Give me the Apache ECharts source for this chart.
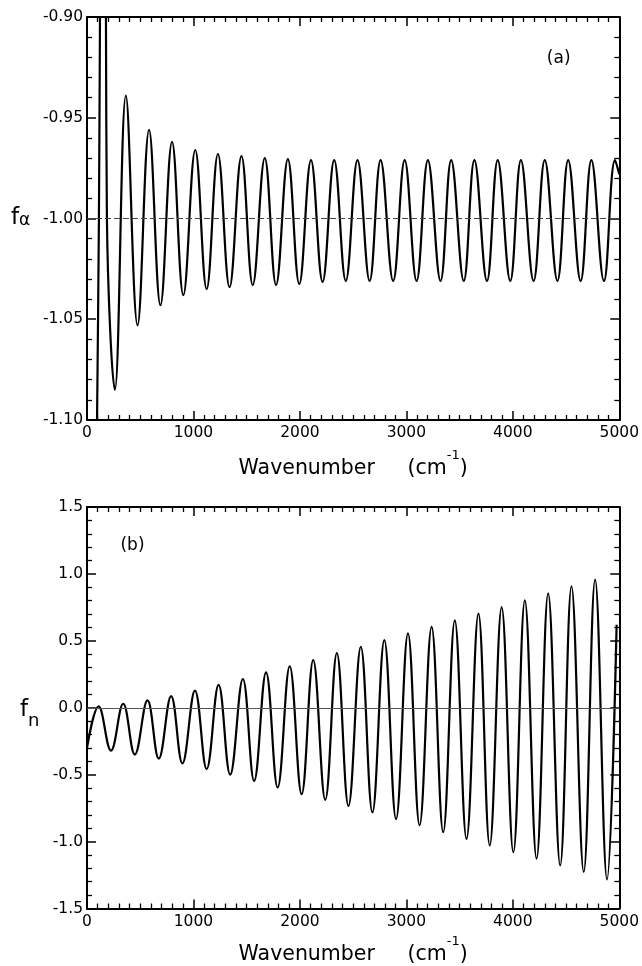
<!DOCTYPE html>
<html>
<head>
<meta charset="utf-8">
<script src="https://cdn.jsdelivr.net/npm/echarts@6/dist/echarts.min.js"></script>
<style>
  html, body { margin: 0; padding: 0; background: #fff; }
  #chart { width: 642px; height: 966px; }
</style>
</head>
<body>
<div id="chart"></div>
<script>
// ---- Data ----
// Panel (a): f_alpha vs wavenumber (extrema and steep start crossings)
const waveA = [85, 112, 122, 150, 178, 187, 262, 365, 475, 583, 690, 799, 905, 1017, 1124, 1230, 1339, 1451, 1557, 1670, 1776, 1887, 1994, 2104, 2213, 2322, 2431, 2541, 2655, 2758, 2876, 2984, 3096, 3202, 3321, 3421, 3539, 3639, 3757, 3858, 3976, 4076, 4195, 4300, 4419, 4520, 4637, 4738, 4856, 4960, 5000];
const fAlpha = [-1.15, -1.00, -0.90, -0.70, -0.90, -1.00, -1.085, -0.939, -1.053, -0.956, -1.043, -0.962, -1.038, -0.966, -1.035, -0.968, -1.034, -0.969, -1.033, -0.970, -1.033, -0.9705, -1.0325, -0.971, -1.0315, -0.971, -1.031, -0.971, -1.031, -0.971, -1.031, -0.971, -1.031, -0.971, -1.031, -0.971, -1.031, -0.971, -1.031, -0.971, -1.031, -0.971, -1.031, -0.971, -1.031, -0.971, -1.031, -0.971, -1.031, -0.971, -0.978];

// Panel (b): f_n vs wavenumber (extrema)
const waveN = [0, 109, 225, 340, 449, 568, 674, 790, 896, 1014, 1124, 1236, 1345, 1464, 1570, 1682, 1791, 1904, 2016, 2125, 2238, 2347, 2456, 2572, 2681, 2793, 2903, 3015, 3124, 3237, 3346, 3455, 3565, 3677, 3783, 3895, 4005, 4113, 4223, 4332, 4445, 4551, 4666, 4773, 4885, 4975];
const fN = [-0.30, 0.01, -0.32, 0.03, -0.35, 0.055, -0.38, 0.087, -0.416, 0.128, -0.458, 0.171, -0.50, 0.215, -0.547, 0.265, -0.596, 0.31, -0.646, 0.356, -0.688, 0.408, -0.733, 0.455, -0.782, 0.505, -0.832, 0.555, -0.878, 0.604, -0.93, 0.653, -0.98, 0.703, -1.03, 0.752, -1.079, 0.802, -1.128, 0.854, -1.178, 0.908, -1.227, 0.958, -1.282, 0.62];

// Axis ticks
const xTicks = [0, 1000, 2000, 3000, 4000, 5000];
const yTicksA = [-1.10, -1.05, -1.00, -0.95, -0.90];
const yTicksN = [-1.5, -1.0, -0.5, 0.0, 0.5, 1.0, 1.5];
const refLineA = -1.0;
const refLineN = 0.0;

// ---- Chart ----
const FONT = 'DejaVu Sans';
const chart = echarts.init(document.getElementById('chart'), null, { renderer: 'canvas' });

function zip(xs, ys) { return xs.map((x, i) => [x, ys[i]]); }

const axisLineStyle = { show: true, onZero: false, lineStyle: { color: '#000', width: 2 } };
function xAxisDef(grid, pos, showLabels, nameGap) {
  const d = {
    gridIndex: grid, type: 'value', position: pos,
    min: xTicks[0], max: xTicks[xTicks.length - 1], interval: xTicks[1] - xTicks[0],
    axisLine: axisLineStyle,
    axisTick: { show: true, inside: true, length: 9, lineStyle: { color: '#000', width: 1.5 } },
    minorTick: { show: true, splitNumber: 10, length: 5, lineStyle: { color: '#000', width: 1.3 } },
    splitLine: { show: false },
    axisLabel: { show: showLabels, margin: 5, color: '#000', fontFamily: FONT, fontSize: 15.5,
      formatter: v => String(v) }
  };
  if (showLabels) {
    d.name = '{m|Wavenumber     (cm}{sup|-1}{m|)}';
    d.nameLocation = 'middle';
    d.nameGap = nameGap;
    d.nameTextStyle = {
      color: '#000', fontFamily: FONT,
      rich: {
        m: { fontSize: 20.5, lineHeight: 30, verticalAlign: 'bottom', fontFamily: FONT, color: '#000' },
        sup: { fontSize: 13, lineHeight: 13, verticalAlign: 'top', fontFamily: FONT, color: '#000' }
      }
    };
  }
  return d;
}
function yAxisDef(grid, pos, showLabels, ticks, minorSplit, digits) {
  return {
    gridIndex: grid, type: 'value', position: pos,
    min: ticks[0], max: ticks[ticks.length - 1], interval: +(ticks[1] - ticks[0]).toFixed(4),
    axisLine: axisLineStyle,
    axisTick: { show: true, inside: true, length: 9, lineStyle: { color: '#000', width: 1.5 } },
    minorTick: { show: true, splitNumber: minorSplit, length: 5, lineStyle: { color: '#000', width: 1.3 } },
    splitLine: { show: false },
    axisLabel: {
      show: showLabels, margin: 4, color: '#000', fontFamily: FONT, fontSize: 15.5,
      formatter: v => v.toFixed(digits)
    }
  };
}

const option = {
  backgroundColor: '#fff',
  animation: false,
  grid: [
    { left: 87, top: 17, width: 534, height: 403 },
    { left: 87, top: 507, width: 533, height: 404 }
  ],
  xAxis: [
    xAxisDef(0, 'bottom', true, 29),
    xAxisDef(0, 'top', false),
    xAxisDef(1, 'bottom', true, 26.5),
    xAxisDef(1, 'top', false)
  ],
  yAxis: [
    yAxisDef(0, 'left', true, yTicksA, 5, 2),
    yAxisDef(0, 'right', false, yTicksA, 5, 2),
    yAxisDef(1, 'left', true, yTicksN, 5, 1),
    yAxisDef(1, 'right', false, yTicksN, 5, 1)
  ],
  series: [
    {
      type: 'line', xAxisIndex: 0, yAxisIndex: 0,
      data: zip(waveA, fAlpha),
      smooth: 0.4, showSymbol: false, clip: true,
      lineStyle: { color: '#000', width: 2.2 },
      markLine: {
        silent: true, symbol: ['none', 'none'], label: { show: false },
        lineStyle: { type: [6, 3], color: '#444', width: 1 },
        data: [{ yAxis: refLineA }]
      }
    },
    {
      type: 'line', xAxisIndex: 2, yAxisIndex: 2,
      data: zip(waveN, fN),
      smooth: 0.4, showSymbol: false, clip: true,
      lineStyle: { color: '#000', width: 2.2 },
      markLine: {
        silent: true, symbol: ['none', 'none'], label: { show: false },
        lineStyle: { type: 'solid', color: '#555', width: 1.2 },
        data: [{ yAxis: refLineN }]
      }
    }
  ],
  graphic: [
    { type: 'text', x: 11, y: 230, style: { text: 'f', font: '23px "DejaVu Sans"', fill: '#000', verticalAlign: 'bottom' } },
    { type: 'text', x: 19, y: 229, style: { text: 'α', font: '17px "DejaVu Sans"', fill: '#000', verticalAlign: 'bottom' } },
    { type: 'text', x: 20, y: 722, style: { text: 'f', font: '23px "DejaVu Sans"', fill: '#000', verticalAlign: 'bottom' } },
    { type: 'text', x: 28, y: 730, style: { text: 'n', font: '18px "DejaVu Sans"', fill: '#000', verticalAlign: 'bottom' } },
    { type: 'text', x: 558.7, y: 59, style: { text: '(a)', font: '17px "DejaVu Sans"', fill: '#000', align: 'center', verticalAlign: 'middle' } },
    { type: 'text', x: 132.5, y: 546, style: { text: '(b)', font: '17px "DejaVu Sans"', fill: '#000', align: 'center', verticalAlign: 'middle' } }
  ]
};
chart.setOption(option);
</script>
</body>
</html>
